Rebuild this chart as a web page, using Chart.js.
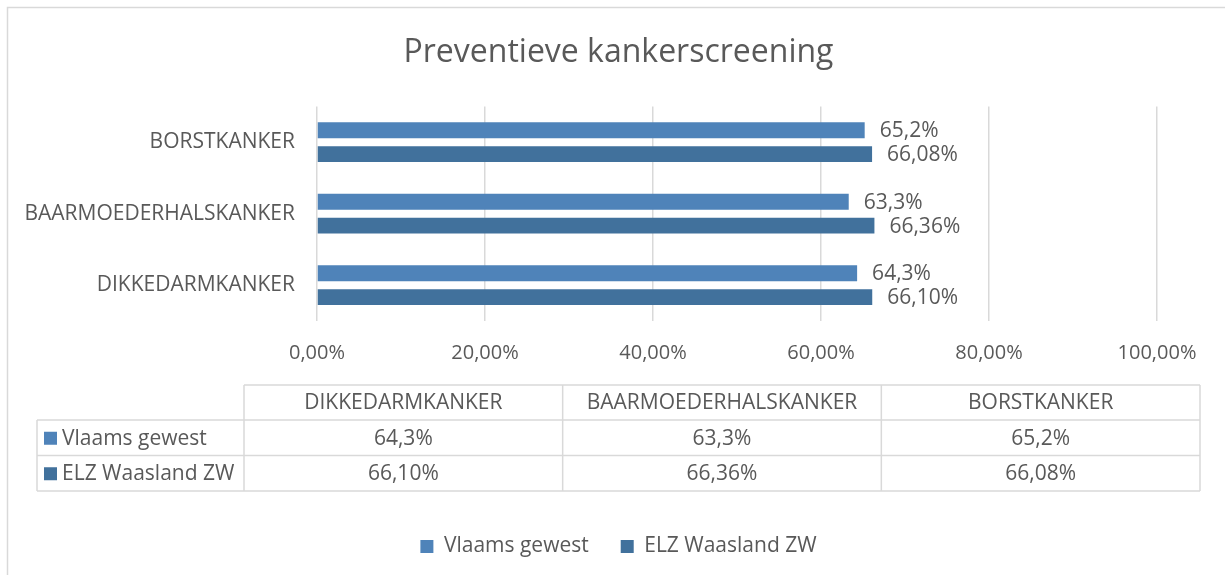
<!DOCTYPE html>
<html>
<head>
<meta charset="utf-8">
<script src="https://cdn.jsdelivr.net/npm/chart.js@4.4.1/dist/chart.umd.min.js"></script>
<style>
  html, body { margin: 0; padding: 0; background: #ffffff; }
  #wrap { width: 1225px; height: 575px; }
</style>
</head>
<body>
<div id="wrap"><canvas id="c" width="1225" height="575"></canvas></div>
<script>
// ---- data ----
const chartTitle = 'Preventieve kankerscreening';
const categories = ['DIKKEDARMKANKER', 'BAARMOEDERHALSKANKER', 'BORSTKANKER'];
const seriesNames = ['Vlaams gewest', 'ELZ Waasland ZW'];
const vlaamsGewest = [64.3, 63.3, 65.2];
const elzWaasland = [66.10, 66.36, 66.08];
const seriesDecimals = [1, 2];
const xTickValues = [0, 20, 40, 60, 80, 100];

// ---- style ----
const FONT = "'Open Sans', 'Noto Sans', sans-serif";
const TEXT = '#595959';
const LINE = '#D9D9D9';
const colors = ['#4F83B9', '#41719C'];

function fmt(v, d) { return v.toFixed(d).replace('.', ',') + '%'; }

const frame = {
  id: 'frame',
  beforeDraw(chart) {
    const ctx = chart.ctx;
    ctx.save();
    ctx.fillStyle = '#ffffff';
    ctx.fillRect(0, 0, chart.width, chart.height);
    ctx.strokeStyle = LINE;
    ctx.lineWidth = 1.5;
    ctx.strokeRect(7.5, 7.5, chart.width + 20, chart.height + 20);
    ctx.restore();
  }
};

const dataLabels = {
  id: 'dataLabels',
  afterDatasetsDraw(chart) {
    const ctx = chart.ctx;
    ctx.save();
    ctx.font = '21px ' + FONT;
    ctx.fillStyle = TEXT;
    ctx.textAlign = 'left';
    ctx.textBaseline = 'middle';
    chart.data.datasets.forEach((ds, di) => {
      const meta = chart.getDatasetMeta(di);
      meta.data.forEach((bar, i) => {
        ctx.fillText(fmt(ds.data[i], seriesDecimals[di]), bar.x + 15, bar.y + 1);
      });
    });
    ctx.restore();
  }
};

const dataTable = {
  id: 'dataTable',
  afterDraw(chart) {
    const ctx = chart.ctx;
    const xs = chart.scales.x;
    const top = xs.top + 64;
    const headH = 35, rowH = 35.5;
    const left = 37, labelRight = 244, right = 1200;
    const colW = (right - labelRight) / categories.length;
    const seriesData = [vlaamsGewest, elzWaasland];
    ctx.save();
    ctx.strokeStyle = LINE;
    ctx.lineWidth = 1.5;
    ctx.beginPath();
    ctx.moveTo(labelRight, top); ctx.lineTo(right, top);
    for (let r = 0; r <= seriesNames.length; r++) {
      const y = top + headH + r * rowH;
      ctx.moveTo(left, y); ctx.lineTo(right, y);
    }
    const bottom = top + headH + seriesNames.length * rowH;
    ctx.moveTo(left, top + headH); ctx.lineTo(left, bottom);
    for (let c = 0; c <= categories.length; c++) {
      const x = labelRight + c * colW;
      ctx.moveTo(x, top); ctx.lineTo(x, bottom);
    }
    ctx.stroke();

    ctx.font = '21px ' + FONT;
    ctx.fillStyle = TEXT;
    ctx.textBaseline = 'middle';
    ctx.textAlign = 'center';
    categories.forEach((cat, c) => {
      ctx.fillText(cat, labelRight + (c + 0.5) * colW, top + headH / 2 + 1);
    });
    seriesNames.forEach((name, r) => {
      const cy = top + headH + (r + 0.5) * rowH;
      ctx.fillStyle = colors[r];
      ctx.fillRect(44, cy - 6, 13, 13);
      ctx.fillStyle = TEXT;
      ctx.textAlign = 'left';
      ctx.fillText(name, 62, cy + 1);
      ctx.textAlign = 'center';
      seriesData[r].forEach((v, c) => {
        ctx.fillText(fmt(v, seriesDecimals[r]), labelRight + (c + 0.5) * colW, cy + 1);
      });
    });
    ctx.restore();
  }
};

new Chart(document.getElementById('c'), {
  type: 'bar',
  data: {
    labels: categories,
    datasets: [
      { label: seriesNames[0], data: vlaamsGewest, backgroundColor: colors[0], borderWidth: 0 },
      { label: seriesNames[1], data: elzWaasland, backgroundColor: colors[1], borderWidth: 0 }
    ]
  },
  options: {
    indexAxis: 'y',
    responsive: false,
    animation: false,
    devicePixelRatio: 1,
    categoryPercentage: 0.667,
    barPercentage: 0.667,
    layout: { padding: { top: 8, left: 20, right: 8, bottom: 8 } },
    scales: {
      x: {
        min: 0, max: 100,
        afterBuildTicks(scale) { scale.ticks = xTickValues.map(v => ({ value: v })); },
        afterFit(scale) { scale.height = 183; },
        grid: { color: LINE, lineWidth: 1.5, drawTicks: false },
        border: { display: false },
        ticks: {
          color: TEXT, font: { family: FONT, size: 20 }, padding: 20,
          callback: (v) => v.toFixed(2).replace('.', ',') + '%'
        }
      },
      y: {
        reverse: true,
        afterFit(scale) { scale.width = 297; },
        grid: { display: false, drawTicks: false },
        border: { display: false },
        ticks: { color: TEXT, font: { family: FONT, size: 21 }, padding: 22 }
      },
      yRight: {
        type: 'category',
        position: 'right',
        labels: categories,
        afterFit(scale) { scale.width = 60; },
        grid: { display: false, drawTicks: false },
        border: { display: false },
        ticks: { display: false }
      }
    },
    plugins: {
      title: {
        display: true, text: chartTitle, color: TEXT,
        font: { family: FONT, size: 32, weight: 'normal' },
        padding: { top: 26, bottom: 34 }
      },
      legend: {
        position: 'bottom',
        labels: {
          color: TEXT, font: { family: FONT, size: 21 },
          boxWidth: 13, boxHeight: 13, padding: 32
        }
      },
      tooltip: { enabled: false }
    }
  },
  plugins: [frame, dataLabels, dataTable]
});
</script>
</body>
</html>
